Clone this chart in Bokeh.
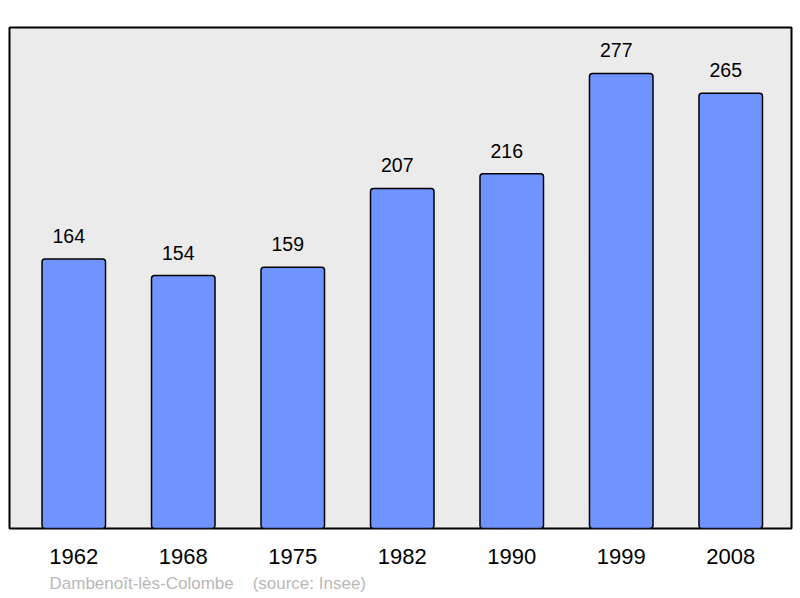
from bokeh.plotting import figure
from bokeh.models import ColumnDataSource, FixedTicker, Range1d, Title
from bokeh.core.properties import value
from bokeh.embed import file_html
from bokeh.resources import INLINE

years = ["1962", "1968", "1975", "1982", "1990", "1999", "2008"]
population = [164, 154, 159, 207, 216, 277, 265]
footer = "Dambenoît-lès-Colombe\u00a0\u00a0\u00a0\u00a0(source: Insee)"

xs = list(range(len(years)))
src = ColumnDataSource(dict(x=xs, top=population, label=[str(v) for v in population]))

p = figure(width=800, height=598, output_backend="svg", toolbar_location=None,
           x_range=Range1d(-0.587, 6.555), y_range=Range1d(0, 305),
           min_border_left=9, min_border_right=9, min_border_top=27, min_border_bottom=70)
p.background_fill_color = "#ebebeb"
p.border_fill_color = "white"
p.outline_line_color = "black"
p.outline_line_width = 2
p.grid.visible = False
p.yaxis.visible = False

p.vbar(x="x", top="top", width=0.58, bottom=0, source=src,
       fill_color="#7094ff", line_color="black", line_width=1.5, border_radius=3)
p.text(x="x", y="top", text="label", source=src, text_align="center",
       text_baseline="alphabetic", x_offset=-5, y_offset=-23,
       text_font=value("Liberation Sans"),
       text_font_size="19.5px", text_color="black")

ax = p.xaxis[0]
ax.ticker = FixedTicker(ticks=xs)
ax.major_label_overrides = {i: y for i, y in zip(xs, years)}
ax.axis_line_color = None
ax.major_tick_line_color = None
ax.minor_tick_line_color = None
ax.major_tick_out = 0
ax.major_tick_in = 0
ax.major_label_standoff = 20
ax.major_label_text_font = "Liberation Sans"
ax.major_label_text_font_size = "22px"
ax.major_label_text_color = "black"

t = Title(text=footer, align="left", offset=40, standoff=10,
          text_font="Liberation Sans", text_font_size="17px",
          text_font_style="normal", text_color="#b8b8b8")
p.add_layout(t, "below")

open("out.html", "w").write(file_html(p, INLINE))
